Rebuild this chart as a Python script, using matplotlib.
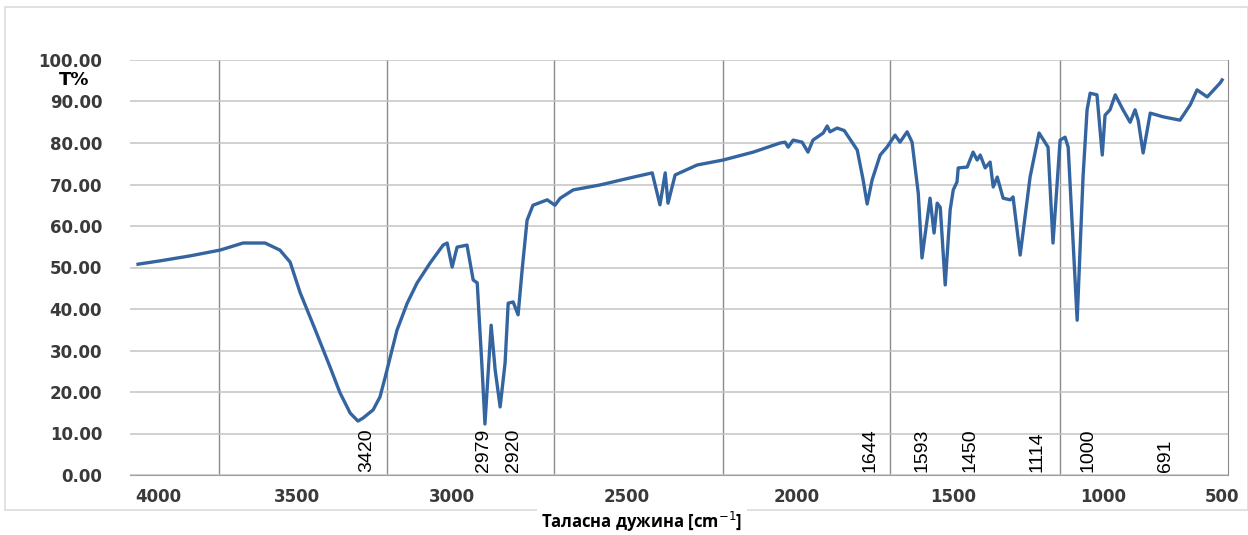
import matplotlib
matplotlib.use("Agg")
import matplotlib.pyplot as plt
from matplotlib.patches import Rectangle

# spectrum (wavenumber cm-1, transmittance %)
wavenumber = [4000, 3929, 3832, 3735, 3661, 3590, 3542, 3509, 3477, 3428, 3380, 3348,
              3315, 3290, 3274, 3241, 3219, 3202, 3186, 3164, 3131, 3099, 3057, 3015,
              3002, 2986, 2970, 2938, 2918, 2905, 2889, 2880, 2860, 2847, 2831, 2815,
              2805, 2789, 2773, 2760, 2744, 2725, 2679, 2654, 2637, 2595, 2508, 2411,
              2340, 2315, 2298, 2289, 2266, 2195, 2111, 2014, 1927, 1911, 1901, 1885,
              1856, 1837, 1821, 1788, 1775, 1766, 1743, 1720, 1678, 1659, 1646, 1630,
              1604, 1582, 1556, 1540, 1517, 1501, 1481, 1469, 1443, 1430, 1420, 1410,
              1394, 1378, 1368, 1356, 1352, 1323, 1304, 1291, 1281, 1265, 1249, 1239,
              1226, 1207, 1184, 1175, 1152, 1120, 1091, 1062, 1046, 1023, 1007, 997,
              968, 949, 936, 926, 904, 887, 878, 862, 845, 820, 797, 781, 771, 755,
              732, 690, 636, 603, 581, 548, 506, 500]
transmittance = [50.8, 51.6, 52.8, 54.2, 55.9, 55.9, 54.2, 51.3, 44.0, 35.0, 26.0, 19.8,
                 14.9, 13.0, 13.7, 15.7, 18.8, 23.6, 28.4, 34.9, 41.4, 46.3, 51.1, 55.4,
                 55.9, 50.1, 54.9, 55.4, 47.0, 46.3, 25.3, 12.3, 36.1, 25.3, 16.4, 27.0,
                 41.4, 41.7, 38.6, 49.4, 61.4, 65.0, 66.3, 65.0, 66.7, 68.7, 69.9, 71.6,
                 72.8, 65.1, 72.8, 65.5, 72.3, 74.7, 75.9, 77.8, 80.0, 80.2, 79.0, 80.7,
                 80.2, 77.8, 80.7, 82.4, 84.1, 82.7, 83.6, 83.0, 78.3, 71.1, 65.3, 71.1,
                 77.1, 79.0, 81.9, 80.2, 82.7, 80.2, 67.9, 52.3, 66.7, 58.3, 65.5, 64.5,
                 45.8, 63.9, 68.7, 70.6, 74.0, 74.2, 77.8, 75.9, 77.1, 74.0, 75.4, 69.4,
                 71.8, 66.7, 66.3, 67.0, 53.0, 71.8, 82.4, 79.0, 55.9, 80.7, 81.4, 79.0,
                 37.3, 71.8, 88.0, 92.0, 91.6, 77.1, 86.7, 88.0, 91.6, 88.0, 85.0, 88.0,
                 85.5, 77.6, 87.2, 86.3, 85.5, 89.2, 92.8, 91.1, 94.5, 95.2]

# x tick labels as printed (positions as they sit in the scan)
tick_labels = ["4000", "3500", "3000", "2500", "2000", "1500", "1000", "500"]
tick_pos = [3935, 3487, 2986, 2421, 1872, 1368, 884, 500]
vgrid_pos = [3738, 3196, 2657, 2111, 1572, 1023]

# peak annotations
peak_labels = ["3420", "2979", "2920", "1644", "1593", "1450", "1114", "1000", "691"]
peak_pos = [3261, 2886, 2789, 1637, 1469, 1314, 1097, 933, 684]

fig = plt.figure(figsize=(12.48, 5.35), dpi=100)
ax = fig.add_axes([130 / 1248, 60 / 535, 1098 / 1248, 415 / 535])

# faint frame around the chart
fig.patches.append(Rectangle((5 / 1248, 1 - 510 / 535), 1243 / 1248, 503 / 535,
                             transform=fig.transFigure, fill=False,
                             edgecolor="#dcdcdc", lw=1.2, zorder=0))

ax.plot(wavenumber, transmittance, color="#3465a0", lw=2.4, solid_joinstyle="round", zorder=3)

ax.set_xlim(4026, 481)
ax.set_ylim(0, 100)
ax.set_yticks(range(0, 101, 10))
ax.set_yticklabels([f"{v:.2f}" for v in range(0, 101, 10)])
ax.set_xticks(tick_pos)
ax.set_xticklabels(tick_labels)
ax.set_xticks(vgrid_pos, minor=True)

ax.grid(axis="y", which="major", color="#c4c4c4", lw=1.1)
ax.grid(axis="x", which="minor", color="#8c8c8c", lw=1.0)
ax.set_axisbelow(True)

for s in ["top", "left"]:
    ax.spines[s].set_visible(False)
ax.spines["bottom"].set_color("#a0a0a0")
ax.spines["right"].set_color("#8c8c8c")

ax.tick_params(axis="both", which="both", length=0)
ax.tick_params(axis="y", pad=20, labelsize=12, labelcolor="#3a3a3a")
ax.tick_params(axis="x", pad=9, labelsize=12, labelcolor="#3a3a3a")
for lab in ax.get_xticklabels() + ax.get_yticklabels():
    lab.set_fontweight("bold")

for lab, x in zip(peak_labels, peak_pos):
    ax.text(x, 0.8, lab, rotation=90, ha="center", va="bottom", fontsize=14,
            family="Liberation Sans", color="black")

fig.text(74 / 1248, 1 - 80 / 535, "T%", ha="center", va="center",
         fontsize=13, fontweight="bold", color="black")

fig.text(642 / 1248, 1 - 522 / 535, "Таласна дужина [cm$^{-1}$]", ha="center", va="center",
         fontsize=12, fontweight="bold", family="Open Sans",
         bbox=dict(facecolor="white", edgecolor="none", pad=3))

fig.savefig("out.png", dpi=100)
